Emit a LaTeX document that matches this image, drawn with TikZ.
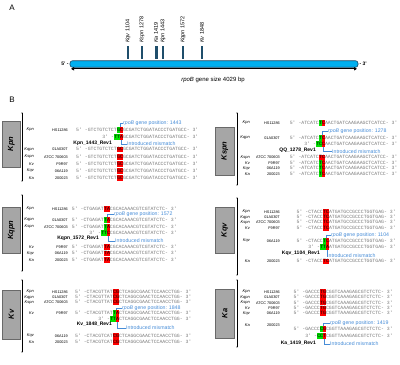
\documentclass[tikz,border=0pt]{standalone}
\usepackage{fontspec}
\setmainfont{Liberation Sans}
\newfontfamily\seqf{Liberation Mono}
\usetikzlibrary{arrows.meta}
\definecolor{seqgray}{RGB}{120,120,120}
\definecolor{hlred}{RGB}{255,0,0}
\definecolor{hlgreen}{RGB}{0,225,0}
\definecolor{annblue}{RGB}{70,140,215}
\definecolor{boxgray}{RGB}{166,166,166}
\definecolor{boxedge}{RGB}{105,105,105}
\definecolor{barblue}{RGB}{0,176,240}
\definecolor{baredge}{RGB}{20,70,100}
\definecolor{tickcol}{RGB}{31,78,107}
\newcommand\sqlbl[5]{\node[spec] at (#1,#3) {#4}; \node[strn] at (#2,#3) {#5};}
\newcommand\seqrow[9]{%
 \node[seqtxt,anchor=east] at (#1,#2) {#3};
 \node[cell,fill=#4] (#9a) at (#1,#2) {#5};
 \node[cell,fill=#6] (#9b) at ({#1+2.9},#2) {#7};
 \node[seqtxt,anchor=west] at ({#1+5.8},#2) {#8};}
\newcommand\primrow[7]{%
 \node[seqtxt,anchor=east] at ({#1-2.9},#2) {3' -};
 \node[cell,fill=hlgreen] at ({#1-2.9},#2) {#3};
 \node[cell,fill=hlgreen] at (#1,#2) {#4};
 \node[cell,fill=hlred] (#7) at ({#1+2.9},#2) {#5};
 \node[seqtxt,anchor=west] at ({#1+5.8},#2) {#6};}
\begin{document}
\begin{tikzpicture}[x=1pt,y=-1pt,
 seqtxt/.style={font=\fontsize{4.83}{5}\seqf, text=seqgray, inner sep=0pt, text height=3.4pt, text depth=0.9pt},
 cell/.style={font=\fontsize{4.83}{5}\seqf, text=black, inner sep=0pt, minimum width=2.9pt, minimum height=5.3pt, text height=3.4pt, text depth=0.9pt, anchor=west},
 spec/.style={font=\fontsize{4}{4.5}\selectfont\itshape, anchor=east, inner sep=0pt},
 strn/.style={font=\fontsize{3.8}{4.5}\selectfont, anchor=east, inner sep=0pt},
 ann/.style={font=\fontsize{5.2}{6}\selectfont, text=annblue, anchor=west, inner sep=0pt},
 conn/.style={draw=annblue, line width=0.5pt},
 rev/.style={font=\fontsize{5}{6}\selectfont\bfseries, anchor=east, inner sep=0pt},
 pbox/.style={draw=boxedge, fill=boxgray, line width=0.6pt, inner sep=0pt},
 plab/.style={font=\fontsize{7.5}{8}\selectfont\bfseries\itshape, rotate=90, inner sep=0pt},
 pline/.style={line width=0.5pt, draw=black},
 tick/.style={fill=tickcol, draw=none, minimum width=2.6pt, minimum height=13pt, inner sep=0pt},
 tlab/.style={rotate=90, anchor=west, font=\fontsize{5.5}{6}\selectfont, inner sep=0pt},
 big/.style={font=\fontsize{8}{9}\selectfont, inner sep=0pt}
]
\useasboundingbox (0,0) rectangle (400,365);
% ---------- Panel A ----------
\node[big] (lblA) at (12,8) {A};
\node[tick] (t1) at (128,52.5) {};
\node[tick] (t2) at (142,52.5) {};
\node[tick] (t3) at (156.5,52.5) {};
\node[tick] (t4) at (163,52.5) {};
\node[tick] (t5) at (183,52.5) {};
\node[tick] (t6) at (202,52.5) {};
\node[tlab] (l1) at (128,43) {\textit{Kqv} 1104};
\node[tlab] (l2) at (142,43) {\textit{Kspn} 1278};
\node[tlab] (l3) at (156,43) {\textit{Ka} 1419};
\node[tlab] (l4) at (163,43) {\textit{Kpn} 1443};
\node[tlab] (l5) at (183,43) {\textit{Kqpn} 1572};
\node[tlab] (l6) at (202,43) {\textit{Kv} 1848};
\node[draw=baredge, fill=barblue, rounded corners=2.5pt, minimum width=288pt, minimum height=6.5pt, inner sep=0pt, line width=0.6pt] (bar) at (214,64) {};
\coordinate (aL) at (71,68.8);
\coordinate (aR) at (357,68.8);
\draw[line width=1pt, {Triangle[length=3pt,width=3.2pt]}-{Triangle[length=3pt,width=3.2pt]}] (aL) -- (aR);
\node[font=\fontsize{5}{6}\selectfont\bfseries, anchor=east, inner sep=1pt] (five) at (bar.west) {5' -};
\node[font=\fontsize{5}{6}\selectfont\bfseries, anchor=west, inner sep=1pt] (three) at (bar.east) {- 3'};
\node[font=\fontsize{6}{7}\selectfont, inner sep=0pt] (size) at (213,80) {\textit{rpoB} gene size 4029 bp};
\node[big] (lblB) at (12,100) {B};
% ---------- panel frames ----------
\draw[pbox] (2,121) rectangle (20.5,167);
\node[plab] (bkpn) at (11.25,144) {Kpn};
\draw[pbox] (2,207) rectangle (20.5,253);
\node[plab] (bkqpn) at (11.25,230) {Kqpn};
\draw[pbox] (2,290) rectangle (20.5,339);
\node[plab] (bkv) at (11.25,314.5) {Kv};
\draw[pbox] (215.5,127) rectangle (234,175);
\node[plab] (bkspn) at (224.75,151) {Kspn};
\draw[pbox] (215.5,207) rectangle (234,253);
\node[plab] (bkqv) at (224.75,230) {Kqv};
\draw[pbox] (215.5,289) rectangle (234,338);
\node[plab] (bka) at (224.75,313.5) {Ka};
\foreach \x/\ya/\yb in {22/113/181, 22/195/271, 22/280/352, 237/113/185, 237/198/275, 237/280/347}{
  \draw[pline] (\x,\ya) -- (\x,\yb);
  \fill (\x,\ya) circle (0.7pt);
  \fill (\x,\yb) circle (0.7pt);
}
% ---------- Kpn panel ----------
\sqlbl{34}{68}{130}{Kpn}{HS11286}
\seqrow{117}{130}{5' -GTCTGTCTCT}{hlgreen}{G}{hlred}{C}{GCGATCTGGATACCCTGATGCC- 3'}{kpnT}
\primrow{117}{137}{T}{T}{A}{GCGATCTGGATACCCTGATGCC- 3'}{kpnP}
\node[rev] (kpnRev) at (112,143) {Kpn\_1443\_Rev1};
\node[ann] (kpnPos) at (123,123) {\textit{rpoB} gene position: 1443};
\node[ann] (kpnMis) at (127,144) {Introduced mismatch};
\draw[conn] (kpnTa.north east) |- (kpnPos.west);
\draw[conn] (kpnP.south) |- (kpnMis.west);
\sqlbl{34}{68}{149.5}{Kqpn}{01A030T}
\seqrow{117}{149.5}{5' -GTCTGTCTCT}{hlred}{G}{hlred}{C}{GCGATCTGGATACCCTGATGCC- 3'}{kpn3}
\sqlbl{34}{68}{157}{Kspn}{ATCC 700603}
\seqrow{117}{157}{5' -GTCTGTCTCT}{hlred}{G}{hlred}{C}{GCGATCTGGATACCCTGATGCC- 3'}{kpn4}
\sqlbl{34}{68}{164}{Kv}{F9R97}
\seqrow{117}{164}{5' -GTCTGTCTCT}{hlred}{G}{hlred}{C}{GCGATCTGGATACCCTGATGCC- 3'}{kpn5}
\sqlbl{34}{68}{171}{Kqv}{06A119}
\seqrow{117}{171}{5' -GTCTGTCTCT}{hlred}{G}{hlred}{C}{GCGATCTGGATACCCTGATGCC- 3'}{kpn6}
\sqlbl{34}{68}{178}{Ka}{200023}
\seqrow{117}{178}{5' -GTCTGTCTCT}{hlred}{G}{hlred}{C}{GCGATCTGGATACCCTGATGCC- 3'}{kpn7}
% ---------- Kqpn panel ----------
\sqlbl{34}{68}{209}{Kpn}{HS11286}
\seqrow{104}{209}{5' -CTGAGAT}{hlred}{T}{hlred}{A}{CGCACAAACGTCGTATCTC- 3'}{kqpn1}
\node[ann] (kqpnPos) at (114,214) {\textit{rpoB} gene position: 1572};
\sqlbl{34}{68}{220}{Kqpn}{01A030T}
\seqrow{104}{220}{5' -CTGAGAT}{hlgreen}{T}{hlred}{A}{CGCACAAACGTCGTATCTC- 3'}{kqpnT}
\sqlbl{34}{68}{227}{Kspn}{ATCC 700603}
\seqrow{104}{227}{5' -CTGAGAT}{hlgreen}{T}{hlred}{A}{CGCACAAACGTCGTATCTC- 3'}{kqpn3}
\primrow{104}{233}{T}{T}{C}{CGCACAAACGTCGTATCTC- 3'}{kqpnP}
\node[rev] (kqpnRev) at (99,238) {Kqpn\_1572\_Rev1};
\node[ann] (kqpnMis) at (115,241) {Introduced mismatch};
\draw[conn] (kqpnTa.north east) |- (kqpnPos.west);
\draw[conn] (kqpnP.south) |- (kqpnMis.west);
\sqlbl{34}{68}{247}{Kv}{F9R97}
\seqrow{104}{247}{5' -CTGAGAT}{hlred}{T}{hlred}{A}{CGCACAAACGTCGTATCTC- 3'}{kqpn5}
\sqlbl{34}{68}{253.5}{Kqv}{06A119}
\seqrow{104}{253.5}{5' -CTGAGAT}{hlred}{T}{hlred}{A}{CGCACAAACGTCGTATCTC- 3'}{kqpn6}
\sqlbl{34}{68}{260}{Ka}{200023}
\seqrow{104}{260}{5' -CTGAGAT}{hlred}{T}{hlred}{A}{CGCACAAACGTCGTATCTC- 3'}{kqpn7}
% ---------- Kv panel ----------
\sqlbl{34}{68}{292}{Kpn}{HS11286}
\seqrow{113}{292}{5' -CTACGTTAT}{hlred}{C}{hlred}{G}{CTCAGGCGAACTCCAACCTGG- 3'}{kv1}
\sqlbl{34}{68}{297.2}{Kqpn}{01A030T}
\seqrow{113}{297.2}{5' -CTACGTTAT}{hlred}{C}{hlred}{G}{CTCAGGCGAACTCCAACCTGG- 3'}{kv2}
\sqlbl{34}{68}{302.4}{Kspn}{ATCC 700603}
\seqrow{113}{302.4}{5' -CTACGTTAT}{hlred}{C}{hlred}{G}{CTCAGGCGAACTCCAACCTGG- 3'}{kv3}
\node[ann] (kvPos) at (122,308) {\textit{rpoB} gene position: 1848};
\sqlbl{34}{68}{313}{Kv}{F9R97}
\seqrow{113}{313}{5' -CTACGTTAT}{hlgreen}{T}{hlred}{A}{CTCAGGCGAACTCCAACCTGG- 3'}{kvT}
\primrow{113}{319}{T}{T}{A}{CTCAGGCGAACTCCAACCTGG- 3'}{kvP}
\node[rev] (kvRev) at (112,324.5) {Kv\_1848\_Rev1};
\node[ann] (kvMis) at (126,328) {Introduced mismatch};
\draw[conn] (kvTa.north east) |- (kvPos.west);
\draw[conn] (kvP.south) |- (kvMis.west);
\sqlbl{34}{68}{336}{Kqv}{06A119}
\seqrow{113}{336}{5' -CTACGTCAT}{hlred}{C}{hlred}{G}{CTCAGGCGAACTCCAACCTGG- 3'}{kv6}
\sqlbl{34}{68}{342}{Ka}{200023}
\seqrow{113}{342}{5' -CTACGTCAT}{hlred}{C}{hlred}{G}{CTCAGGCGAACTCCAACCTGG- 3'}{kv7}
% ---------- Kspn panel ----------
\sqlbl{250}{280}{123}{Kpn}{HS11286}
\seqrow{319}{123}{5' -ATCATC}{hlgreen}{T}{hlred}{C}{AACTGATCAAGAAGCTCATCC- 3'}{kspn1}
\node[ann] (kspnPos) at (328,131) {\textit{rpoB} gene position: 1278};
\sqlbl{250}{280}{138}{Kqpn}{01A030T}
\seqrow{319}{138}{5' -ATCATC}{hlgreen}{T}{hlred}{C}{AACTGATCAAGAAGCTCATCC- 3'}{kspnT}
\primrow{319}{144}{T}{C}{C}{AACTGATCAAGAAGCTCATCC- 3'}{kspnP}
\node[rev] (kspnRev) at (316,150) {QQ\_1278\_Rev1};
\node[ann] (kspnMis) at (332,151.3) {Introduced mismatch};
\draw[conn] (kspnTa.north east) |- (kspnPos.west);
\draw[conn] (kspnP.south) |- (kspnMis.west);
\sqlbl{250}{280}{157.5}{Kspn}{ATCC 700603}
\seqrow{319}{157.5}{5' -ATCATC}{hlred}{T}{hlred}{C}{AACTGATCAAGAAGCTCATCC- 3'}{kspn4}
\sqlbl{250}{280}{163}{Kv}{F9R97}
\seqrow{319}{163}{5' -ATCATC}{hlgreen}{T}{hlred}{C}{AACTGATCAAGAAGCTCATCC- 3'}{kspn5}
\sqlbl{250}{280}{168.5}{Kqv}{06A119}
\seqrow{319}{168.5}{5' -ATCATC}{hlgreen}{T}{hlred}{C}{AACTGATCAAGAAGCTCATCC- 3'}{kspn6}
\sqlbl{250}{280}{174}{Ka}{200023}
\seqrow{319}{174}{5' -ATCATC}{hlgreen}{T}{hlred}{C}{AACTGATCAAGAAGCTCATCC- 3'}{kspn7}
% ---------- Kqv panel ----------
\sqlbl{250}{280}{212}{Kpn}{HS11286}
\seqrow{323}{212}{5' -CTACC}{hlred}{T}{hlred}{C}{ATGATGCCGCCCTGGTGAG- 3'}{kqv1}
\sqlbl{250}{280}{217.3}{Kqpn}{01A030T}
\seqrow{323}{217.3}{5' -CTACC}{hlred}{T}{hlred}{C}{ATGATGCCGCCCTGGTGAG- 3'}{kqv2}
\sqlbl{250}{280}{222.6}{Kspn}{ATCC 700603}
\seqrow{323}{222.6}{5' -CTACC}{hlred}{T}{hlred}{C}{ATGATGCCGCCCTGGTGAG- 3'}{kqv3}
\sqlbl{250}{280}{228}{Kv}{F9R97}
\seqrow{323}{228}{5' -CTACC}{hlred}{T}{hlred}{C}{ATGATGCCGCCCTGGTGAG- 3'}{kqv4}
\node[ann] (kqvPos) at (331,235) {\textit{rpoB} gene position: 1104};
\sqlbl{250}{280}{241}{Kqv}{06A119}
\seqrow{323}{241}{5' -CTACC}{hlgreen}{T}{hlred}{C}{ATGATGCCGCCCTGGTGAG- 3'}{kqvT}
\primrow{323}{247}{T}{T}{A}{ATGATGCCGCCCTGGTGAG- 3'}{kqvP}
\node[rev] (kqvRev) at (320,253) {Kqv\_1104\_Rev1};
\node[ann] (kqvMis) at (327,256) {Introduced mismatch};
\draw[conn] (kqvTa.north east) |- (kqvPos.west);
\draw[conn] (kqvP.south) |- (kqvMis.west);
\sqlbl{250}{280}{261.5}{Ka}{200023}
\seqrow{323}{261.5}{5' -CTACC}{hlred}{T}{hlred}{C}{ATGATGCCGCCCTGGTGAG- 3'}{kqv7}
% ---------- Ka panel ----------
\sqlbl{250}{280}{292}{Kpn}{HS11286}
\seqrow{320}{292}{5' -GACCC}{hlred}{T}{hlred}{G}{CGGTCAAAGAGCGTCTCTC- 3'}{ka1}
\sqlbl{250}{280}{297.4}{Kqpn}{01A030T}
\seqrow{320}{297.4}{5' -GACCC}{hlred}{T}{hlred}{G}{CGGTCAAAGAGCGTCTCTC- 3'}{ka2}
\sqlbl{250}{280}{302.8}{Kspn}{ATCC 700603}
\seqrow{320}{302.8}{5' -GACCC}{hlred}{T}{hlred}{G}{CGGTCAAAGAGCGTCTCTC- 3'}{ka3}
\sqlbl{250}{280}{308.2}{Kv}{F9R97}
\seqrow{320}{308.2}{5' -GACCC}{hlred}{T}{hlred}{G}{CGGTCAAAGAGCGTCTCTC- 3'}{ka4}
\sqlbl{250}{280}{313.6}{Kqv}{06A119}
\seqrow{320}{313.6}{5' -GACCC}{hlred}{T}{hlred}{G}{CGGTTAAAGAGCGTCTCTC- 3'}{ka5}
\node[ann] (kaPos) at (330,323) {\textit{rpoB} gene position: 1419};
\sqlbl{250}{280}{325}{Ka}{200023}
\seqrow{320}{329}{5' -GACCC}{hlgreen}{C}{hlred}{G}{CGGTTAAAGAGCGTCTCTC- 3'}{kaT}
\primrow{320}{336}{C}{C}{T}{CGGTTAAAGAGCGTCTCTC- 3'}{kaP}
\node[rev] (kaRev) at (316,343) {Ka\_1419\_Rev1};
\node[ann] (kaMis) at (330,344) {Introduced mismatch};
\draw[conn] (kaTa.north east) |- (kaPos.west);
\draw[conn] (kaP.south) |- (kaMis.west);
\end{tikzpicture}
\end{document}
